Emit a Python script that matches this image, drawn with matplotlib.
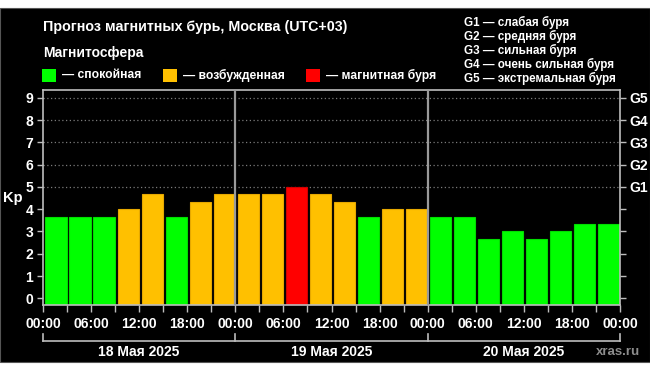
"""
Kp forecast chart (magnetic storms, Moscow).
"""

import matplotlib
matplotlib.use("Agg")
import matplotlib.pyplot as plt
from matplotlib.patches import Rectangle

plt.rcParams['font.family'] = ['Liberation Sans', 'DejaVu Sans']
plt.rcParams['font.weight'] = 'bold'

# Data
days = ["18 Мая 2025", "19 Мая 2025", "20 Мая 2025"]
hour_labels = ["00:00", "06:00", "12:00", "18:00"]
kp_values = [
    3.67, 3.67, 3.67, 4.0, 4.67, 3.67, 4.33, 4.67,
    4.67, 4.67, 5.0, 4.67, 4.33, 3.67, 4.0, 4.0,
    3.67, 3.67, 2.67, 3.0, 2.67, 3.0, 3.33, 3.33,
]
g_levels = ["G1", "G2", "G3", "G4", "G5"]
g_names = ["слабая буря", "средняя буря", "сильная буря",
           "очень сильная буря", "экстремальная буря"]
legend_labels = ["спокойная", "возбужденная", "магнитная буря"]

GREEN = "#00ff00"
ORANGE = "#ffc000"
RED = "#ff0000"
GREY = "#bdbdbd"
EDGES = {GREEN: "#00dd00", ORANGE: "#e6a800", RED: "#d00000"}

W, H = 650, 372


def fx(px):
    return px / W


def fy(py):
    return 1 - py / H


def bar_color(v):
    if v >= 5:
        return RED
    if v >= 4:
        return ORANGE
    return GREEN


fig = plt.figure(figsize=(6.5, 3.72), dpi=100, facecolor="white")
# black panel (white stripes top and bottom)
fig.patches.append(Rectangle((0, fy(362)), 1, fy(8) - fy(362),
                             transform=fig.transFigure, facecolor="black",
                             edgecolor="#555555", lw=0.8, zorder=-10))

ax = fig.add_axes([fx(43), fy(305), fx(620) - fx(43), fy(90) - fy(305)])
ax.set_facecolor("black")

n = len(kp_values)
ymin = -0.3
xs = [i + 0.1 for i in range(n)]
heights = [v - ymin for v in kp_values]
colors = [bar_color(v) for v in kp_values]
ax.bar(xs, heights, bottom=ymin, width=0.88, align="edge",
       color=colors, edgecolor=[EDGES[c] for c in colors], lw=0.8, zorder=2)

ax.set_xlim(0, n)
ax.set_ylim(ymin, 9.35)

# dotted grid for storm levels
for lvl in range(5, 10):
    ax.axhline(lvl, color="#7a7a7a", lw=0.9, ls=(0, (1, 2)), zorder=1)

# day separators
for d in range(1, len(days)):
    ax.axvline(d * 8, color="#9a9a9a", lw=1.6, zorder=3)

for sp in ax.spines.values():
    sp.set_color(GREY)
    sp.set_linewidth(1.2)

ax.set_yticks(range(10))
ax.set_yticklabels([str(i) for i in range(10)])
ax.tick_params(axis="y", colors="white", labelcolor="white", length=4,
               width=1, labelsize=10, pad=3, color=GREY)
ax.set_xticks(range(n + 1))
xt = []
for i in range(n + 1):
    xt.append(hour_labels[(i // 2) % 4] if i % 2 == 0 else "")
ax.set_xticklabels(xt)
ax.tick_params(axis="x", colors=GREY, labelcolor="white", length=5,
               width=1, labelsize=10, pad=4)

# right axis with G levels
ax2 = ax.twinx()
ax2.set_ylim(ax.get_ylim())
ax2.set_yticks(range(10))
ax2.set_yticklabels([""] * 5 + g_levels)
ax2.tick_params(axis="y", color=GREY, labelcolor="white", length=4,
                width=1, labelsize=10, pad=3)
for sp in ax2.spines.values():
    sp.set_visible(False)

fig.text(fx(13), fy(198), "Kp", color="white", fontsize=10.5,
         ha="center", va="center")

# title and legend
fig.text(fx(43), fy(27), "Прогноз магнитных бурь, Москва (UTC+03)",
         color="white", fontsize=10.3, va="center")
fig.text(fx(43), fy(53), "Магнитосфера", color="white", fontsize=10,
         va="center")
legend_x = [42, 163, 306]
for x0, c, lab in zip(legend_x, [GREEN, ORANGE, RED], legend_labels):
    fig.patches.append(Rectangle((fx(x0), fy(82)), fx(14), fy(69) - fy(82),
                                 transform=fig.transFigure, facecolor=c,
                                 edgecolor="none"))
    fig.text(fx(x0 + 20), fy(75.5), "— " + lab, color="white", fontsize=8.7,
             va="center")

for k, (g, name) in enumerate(zip(g_levels, g_names)):
    fig.text(fx(464), fy(22 + 14 * k), f"{g} — {name}", color="white",
             fontsize=8.4, va="center")

# date bracket under the axis
bx0, bx1 = 43, 620
by = 341
fig.lines.append(plt.Line2D([fx(bx0), fx(bx1)], [fy(by), fy(by)],
                            transform=fig.transFigure, color=GREY, lw=1.2))
for d in range(len(days) + 1):
    xp = bx0 + (bx1 - bx0) * d / len(days)
    fig.lines.append(plt.Line2D([fx(xp), fx(xp)], [fy(by - 7), fy(by)],
                                transform=fig.transFigure, color=GREY, lw=1.2))
for d, label in enumerate(days):
    xc = bx0 + (bx1 - bx0) * (d + 0.5) / len(days)
    fig.text(fx(xc), fy(352), label, color="white", fontsize=10,
             ha="center", va="center")

fig.text(fx(640), fy(352), "xras.ru", color="#8c8c8c", fontsize=9.5,
         ha="right", va="center")

fig.savefig("out.png", dpi=100, facecolor="white")
